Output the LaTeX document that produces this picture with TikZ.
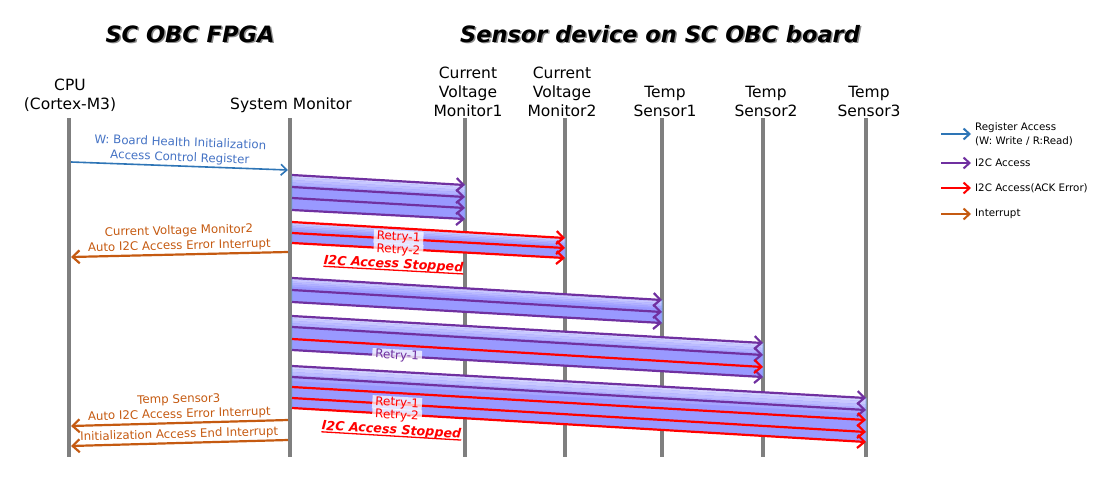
\documentclass[tikz,border=0pt]{standalone}
\usepackage{fontspec}
\setmainfont{DejaVu Sans}
\usetikzlibrary{arrows.meta,calc}
\definecolor{lifegray}{HTML}{7F7F7F}
\definecolor{regblue}{HTML}{2E75B6}
\definecolor{regtext}{HTML}{4472C4}
\definecolor{i2cpurple}{HTML}{7030A0}
\definecolor{ackred}{HTML}{FF0000}
\definecolor{intorange}{HTML}{C55A11}
\definecolor{bandfill}{HTML}{9999FF}
\definecolor{bandlight}{HTML}{D4D4FF}
\definecolor{bandedge}{HTML}{6FA8DC}
\definecolor{shadowgray}{HTML}{8C8C8C}

\begin{document}
\begin{tikzpicture}[
    x=1pt, y=-1pt,
    title/.style={font=\fontsize{22.5}{26}\selectfont\bfseries\itshape, inner sep=0pt},
    head/.style={align=center, font=\fontsize{15.5}{19}\selectfont, inner sep=0pt},
    lifeline/.style={draw=lifegray, line width=4pt},
    msg/.style={font=\fontsize{11.8}{15}\selectfont, align=center, inner sep=1.5pt},
    regarrow/.style={-{Straight Barb[length=6pt,width=11pt]}, draw=regblue, line width=1.6pt},
    i2carrow/.style={-{Straight Barb[length=7pt,width=13pt]}, draw=i2cpurple, line width=2.2pt},
    ackarrow/.style={i2carrow, draw=ackred},
    intarrow/.style={{Straight Barb[length=7pt,width=13pt]}-, draw=intorange, line width=2.2pt},
    legarrow/.style={-{Straight Barb[length=6pt,width=11pt]}, line width=2pt},
    retry/.style={font=\fontsize{12}{13}\selectfont, fill=white, fill opacity=0.75,
                  text opacity=1, inner xsep=3pt, inner ysep=1pt, sloped},
    stopped/.style={font=\fontsize{12.7}{14}\selectfont\bfseries\itshape, text=ackred,
                    sloped, inner sep=0pt},
    stopline/.style={draw=ackred, line width=1.3pt},
    legend/.style={anchor=west, align=left, font=\fontsize{10.3}{14}\selectfont, inner sep=0pt},
  ]
  \useasboundingbox (0,0) rectangle (1120,480);

  \node[title, text=shadowgray] (fpgashadow) at (191.5,35.5) {SC OBC FPGA};
  \node[title] (fpgatitle) at (190,34) {SC OBC FPGA};
  \node[title, text=shadowgray] (boardshadow) at (661.5,35.5) {Sensor device on SC OBC board};
  \node[title] (boardtitle) at (660,34) {Sensor device on SC OBC board};

  \node[head] (cpu) at (70,95.5) {CPU\\(Cortex-M3)};
  \node[head] (sm) at (291,105) {System Monitor};
  \node[head] (cvm1) at (468,92) {Current\\Voltage\\Monitor1};
  \node[head] (cvm2) at (562,92) {Current\\Voltage\\Monitor2};
  \node[head] (ts1) at (665,101.5) {Temp\\Sensor1};
  \node[head] (ts2) at (766,101.5) {Temp\\Sensor2};
  \node[head] (ts3) at (869,101.5) {Temp\\Sensor3};

  \foreach \n/\x in {cpu/69, sm/290, cvm1/465, cvm2/565, ts1/662, ts2/763, ts3/866}{
    \coordinate (L\n) at (\x,118);
    \coordinate (B\n) at (\x,457);
    \draw[lifeline] (L\n) -- (B\n);
  }
  \coordinate (cpuR) at ([xshift=2pt]Lcpu);
  \coordinate (smR) at ([xshift=2pt]Lsm);
  \coordinate (smL) at ([xshift=-2pt]Lsm);

  % I2C access bands
  \foreach \dst/\ya/\yb/\yc/\yd in {cvm1/175/185/219/210, cvm2/222/238/258/243,
      ts1/278/300/323/302, ts2/316/343/377/350, ts3/366/398/442/408}{
    \coordinate (ba) at (smR |- 0,\ya);
    \coordinate (bb) at (L\dst |- 0,\yb);
    \coordinate (bc) at (L\dst |- 0,\yc);
    \coordinate (bd) at (smR |- 0,\yd);
    \fill[bandfill] (ba) -- (bb) -- (bc) -- (bd) -- cycle;
    \foreach \k [evaluate=\k as \f using \k/14, evaluate=\k as \g using (\k+1)/14,
                 evaluate=\k as \c using int(100-\k*20)] in {0,...,4}
      \fill[bandlight!\c!bandfill] ($(ba)!\f!(bd)$) -- ($(bb)!\f!(bc)$)
            -- ($(bb)!\g!(bc)$) -- ($(ba)!\g!(bd)$) -- cycle;
    \draw[bandedge, line width=0.7pt] (ba) -- (bb) -- (bc) -- (bd) -- cycle;
  }

  \draw[regarrow] (cpuR |- 0,162) -- (smL |- 0,170)
    node[msg, midway, above, sloped, text=regtext] (wlabel)
    {W: Board Health Initialization\\Access Control Register};

  \foreach \ya/\yb in {175/185, 187/197, 198/208, 210/219}
    \draw[i2carrow] (smR |- 0,\ya) -- (Lcvm1 |- 0,\yb);

  \foreach \ya/\yb in {222/238, 233/248, 243/258}
    \draw[ackarrow] (smR |- 0,\ya) -- (Lcvm2 |- 0,\yb);
  \path (smR |- 0,233) -- (Lcvm2 |- 0,248)
    node[retry, text=ackred, pos=.39, yshift=1.5pt] (retryaa) {Retry-1};
  \path (smR |- 0,243) -- (Lcvm2 |- 0,258)
    node[retry, text=ackred, pos=.39, yshift=-1.5pt] (retryab) {Retry-2}
    node[stopped, pos=.375, yshift=-16pt] (stoppeda) {I2C Access Stopped};
  \draw[stopline] ([yshift=-2pt]stoppeda.base west) -- ([yshift=-2pt]stoppeda.base east);

  \draw[intarrow] (cpuR |- 0,257) -- (smL |- 0,252)
    node[msg, midway, above, sloped, text=intorange] (cvmint)
    {Current Voltage Monitor2\\Auto I2C Access Error Interrupt};

  \foreach \ya/\yb in {278/300, 290/312, 302/323}
    \draw[i2carrow] (smR |- 0,\ya) -- (Lts1 |- 0,\yb);

  \foreach \ya/\yb in {316/343, 327/355, 350/377}
    \draw[i2carrow] (smR |- 0,\ya) -- (Lts2 |- 0,\yb);
  \draw[ackarrow] (smR |- 0,339) -- (Lts2 |- 0,367);
  \path (smR |- 0,350) -- (Lts2 |- 0,377)
    node[retry, text=i2cpurple, pos=.223] (retryb) {Retry-1};

  \foreach \ya/\yb in {366/398, 377/410}
    \draw[i2carrow] (smR |- 0,\ya) -- (Lts3 |- 0,\yb);
  \foreach \ya/\yb in {387/420, 398/432, 408/442}
    \draw[ackarrow] (smR |- 0,\ya) -- (Lts3 |- 0,\yb);
  \path (smR |- 0,398) -- (Lts3 |- 0,432)
    node[retry, text=ackred, pos=.183, yshift=1pt] (retryca) {Retry-1};
  \path (smR |- 0,408) -- (Lts3 |- 0,442)
    node[retry, text=ackred, pos=.183, yshift=-1.5pt] (retrycb) {Retry-2}
    node[stopped, pos=.175, yshift=-16.5pt] (stoppedc) {I2C Access Stopped};
  \draw[stopline] ([yshift=-2pt]stoppedc.base west) -- ([yshift=-2pt]stoppedc.base east);

  \draw[intarrow] (cpuR |- 0,426) -- (smL |- 0,420)
    node[msg, midway, above, sloped, text=intorange] (tsint)
    {Temp Sensor3\\Auto I2C Access Error Interrupt};
  \draw[intarrow] (cpuR |- 0,446) -- (smL |- 0,440)
    node[msg, midway, above, sloped, text=intorange] (endint)
    {Initialization Access End Interrupt};

  \node[legend] (lgreg) at (975,134) {Register Access\\(W: Write / R:Read)};
  \node[legend] (lgi2c) at (975,163) {I2C Access};
  \node[legend] (lgack) at (975,188) {I2C Access(ACK Error)};
  \node[legend] (lgint) at (975,214) {Interrupt};
  \draw[legarrow, regblue] ($(lgreg.west)+(-34,0)$) -- ([xshift=-4pt]lgreg.west);
  \draw[legarrow, i2cpurple] ($(lgi2c.west)+(-34,0)$) -- ([xshift=-4pt]lgi2c.west);
  \draw[legarrow, ackred] ($(lgack.west)+(-34,0)$) -- ([xshift=-4pt]lgack.west);
  \draw[legarrow, intorange] ($(lgint.west)+(-34,0)$) -- ([xshift=-4pt]lgint.west);
\end{tikzpicture}
\end{document}
